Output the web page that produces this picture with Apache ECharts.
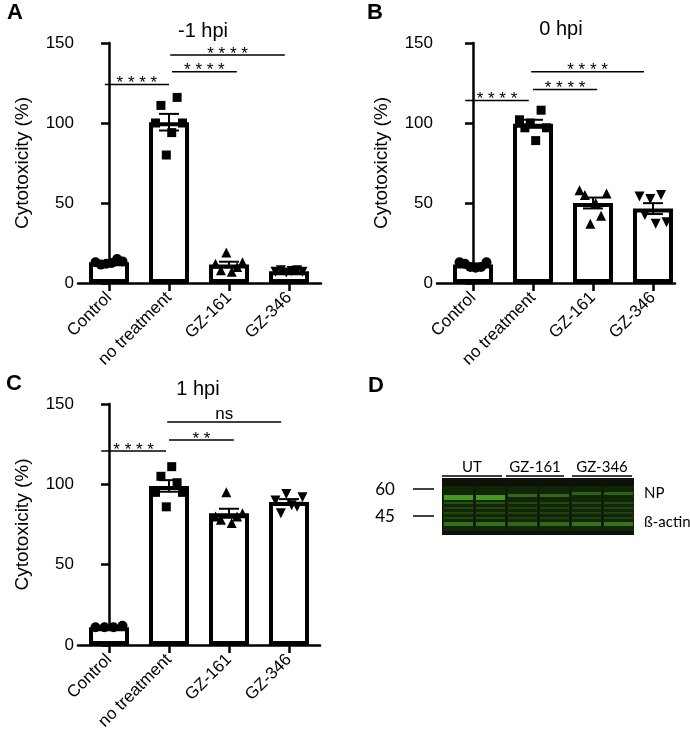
<!DOCTYPE html>
<html>
<head>
<meta charset="utf-8">
<script src="https://cdn.jsdelivr.net/npm/echarts@6/dist/echarts.min.js"></script>
<style>
  html, body { margin: 0; padding: 0; background: #fff; }
  #chart { width: 690px; height: 741px; }
</style>
</head>
<body>
<div id="chart"></div>
<script>
const groups = ['Control', 'no treatment', 'GZ-161', 'GZ-346'];
const yTicks = [0, 50, 100, 150];

// -1 hpi
const meanA = [13, 100.5, 11.5, 7.3];
const semA = [0.6, 5.2, 1.8, 0.4];
const ptsA = [
  [13, 11.5, 12, 12.5, 15, 13.5],
  [100, 111, 80, 94, 116, 100],
  [12, 8, 19, 7, 10, 13],
  [7, 8, 6.5, 7.5, 8, 7]
];
const sigA = [[-0.07, 1.0, 124, '****'], [1.05, 2.13, 132, '****'], [1.02, 2.93, 142.5, '****']];

// 0 hpi
const meanB = [11.5, 99.5, 50, 46.5];
const semB = [0.7, 2.5, 3.4, 3.4];
const ptsB = [
  [13, 12, 10, 9.5, 10, 13],
  [102, 97, 100, 89, 108, 97],
  [58, 55, 37, 50, 42, 56],
  [54, 42.5, 52.5, 37, 55, 38]
];
const sigB = [[-0.13, 0.93, 114, '****'], [1.0, 2.07, 121, '****'], [0.97, 2.85, 132, '****']];

// 1 hpi
const meanC = [11, 99, 82, 89];
const semC = [0.3, 3.6, 2.8, 1.8];
const ptsC = [
  [11, 11, 11, 12],
  [95, 105, 86, 111, 101, 95],
  [80, 78, 95, 76, 80, 82],
  [90, 82, 94, 87, 86, 92]
];
const sigC = [[-0.13, 0.95, 120.7, '****'], [1.0, 2.08, 127.6, '**'], [0.97, 2.87, 138.8, 'ns']];

// western blot (panel D): relative band intensity per lane
const blotGroups = ['UT', 'GZ-161', 'GZ-346'];
const npBand = [0.85, 0.85, 0.5, 0.5, 0.45, 0.45];
const actinBand = [0.55, 0.55, 0.5, 0.52, 0.58, 0.58];
const faintBand = [0.32, 0.32, 0.26, 0.26, 0.28, 0.28];

const FONT = '"Liberation Sans", Arial, sans-serif';
const symbols = ['circle', 'rect', 'triangle', 'triangle'];
const rotations = [0, 0, 0, 180];

const panels = [
  { mean: meanA, sem: semA, pts: ptsA, sig: sigA, grid: { left: 78, top: 43, width: 243, height: 240 }, min: -0.517, max: 3.533 },
  { mean: meanB, sem: semB, pts: ptsB, sig: sigB, grid: { left: 437, top: 43, width: 238, height: 240 }, min: -0.6, max: 3.367 },
  { mean: meanC, sem: semC, pts: ptsC, sig: sigC, grid: { left: 78, top: 404, width: 242, height: 241 }, min: -0.517, max: 3.517 }
];

const grids = [], xAxes = [], yAxes = [], series = [];

panels.forEach((p, k) => {
  grids.push(p.grid);
  xAxes.push({
    type: 'value', gridIndex: k, min: p.min, max: p.max,
    splitLine: { show: false },
    axisLine: { onZero: false, lineStyle: { color: '#000', width: 2.5 } },
    axisTick: { customValues: [0, 1, 2, 3], length: 8, lineStyle: { color: '#000', width: 2.5 } },
    axisLabel: {
      customValues: [0, 1, 2, 3], rotate: 45, margin: 12,
      formatter: v => groups[Math.round(v)],
      color: '#000', fontSize: 17, fontFamily: FONT
    }
  });
  yAxes.push({
    type: 'value', gridIndex: k, min: 0, max: 150, interval: 50,
    name: 'Cytotoxicity (%)', nameLocation: 'middle', nameGap: 46,
    nameTextStyle: { color: '#000', fontSize: 19, fontFamily: FONT },
    splitLine: { show: false },
    axisLine: { show: true, lineStyle: { color: '#000', width: 2.5 } },
    axisTick: { show: true, length: 8, lineStyle: { color: '#000', width: 2.5 } },
    axisLabel: { color: '#000', fontSize: 17, fontFamily: FONT, margin: 4 }
  });

  series.push({
    type: 'bar', xAxisIndex: k, yAxisIndex: k, barWidth: 40, z: 2,
    data: p.mean.map((m, i) => [i, m]),
    itemStyle: { color: '#fff', borderColor: '#000', borderWidth: 4 },
    silent: true
  });

  p.pts.forEach((vals, i) => {
    const n = vals.length;
    const step = 0.45 / (n - 1);
    series.push({
      type: 'scatter', xAxisIndex: k, yAxisIndex: k, z: 3,
      symbol: symbols[i], symbolRotate: rotations[i],
      symbolSize: i === 1 ? 9 : 10,
      itemStyle: { color: '#000', opacity: 1 },
      data: vals.map((v, j) => [i + (j - (n - 1) / 2) * step, v]),
      silent: true
    });
  });

  series.push({
    type: 'custom', xAxisIndex: k, yAxisIndex: k, z: 4,
    data: p.mean.map((m, i) => [i, m, p.sem[i]]),
    renderItem: (params, api) => {
      const x = api.value(0), m = api.value(1), s = api.value(2);
      const t = api.coord([x, m + s]), b = api.coord([x, m - s]);
      const hw = 10, st = { stroke: '#000', lineWidth: 2 };
      return {
        type: 'group', children: [
          { type: 'line', shape: { x1: t[0], y1: t[1], x2: b[0], y2: b[1] }, style: st },
          { type: 'line', shape: { x1: t[0] - hw, y1: t[1], x2: t[0] + hw, y2: t[1] }, style: st },
          { type: 'line', shape: { x1: b[0] - hw, y1: b[1], x2: b[0] + hw, y2: b[1] }, style: st }
        ]
      };
    },
    silent: true
  });

  series.push({
    type: 'custom', xAxisIndex: k, yAxisIndex: k, z: 5,
    data: p.sig.map(s => [s[0], s[1], s[2]]),
    renderItem: (params, api) => {
      const s = p.sig[params.dataIndex];
      const a = api.coord([s[0], s[2]]), b = api.coord([s[1], s[2]]);
      const stars = s[3].indexOf('*') >= 0;
      const txt = stars ? s[3].split('').join(' ') : s[3];
      return {
        type: 'group', children: [
          { type: 'line', shape: { x1: a[0], y1: a[1], x2: b[0], y2: b[1] }, style: { stroke: '#000', lineWidth: 1.5 } },
          {
            type: 'text', x: (a[0] + b[0]) / 2, y: stars ? a[1] - 1 : a[1] + 1,
            style: {
              text: txt, fill: '#000', font: '17px ' + FONT,
              align: 'center', verticalAlign: stars ? 'middle' : 'bottom',
              textAlign: 'center', textVerticalAlign: stars ? 'middle' : 'bottom'
            }
          }
        ]
      };
    },
    silent: true
  });
});

// text elements and blot picture
const txt = (x, y, text, font, align) => ({
  type: 'text', x: x, y: y,
  style: { text: text, font: font, fill: '#000', align: align || 'center', verticalAlign: 'middle', textAlign: align || 'center', textVerticalAlign: 'middle' }
});
const graphic = [
  txt(15, 13, 'A', 'bold 22px ' + FONT),
  txt(375, 13, 'B', 'bold 22px ' + FONT),
  txt(14, 384, 'C', 'bold 22px ' + FONT),
  txt(376, 386, 'D', 'bold 22px ' + FONT),
  txt(203, 31, '-1 hpi', '20px ' + FONT),
  txt(561, 29, '0 hpi', '20px ' + FONT),
  txt(198, 389, '1 hpi', '20px ' + FONT)
];

const BF = 'Lato, "Open Sans", sans-serif';
const blot = { x: 442, y: 478, w: 192, h: 57 };
graphic.push({ type: 'rect', shape: { x: blot.x, y: blot.y, width: blot.w, height: blot.h }, style: { fill: '#0a1305' } });
const laneW = blot.w / 6;
const green = a => 'rgba(80, 175, 35,' + a + ')';
npBand.forEach((v, i) => {
  const lx = blot.x + i * laneW + 2, lw = laneW - 3;
  const shift = i >= 4 ? -3 : (i >= 2 ? -1 : 0);
  graphic.push({ type: 'rect', shape: { x: lx - 1, y: 486, width: lw + 2, height: 45 }, style: { fill: 'rgba(40, 90, 20, 0.25)' } });
  graphic.push({ type: 'rect', shape: { x: lx, y: 495 + shift, width: lw, height: i < 2 ? 5 : 3 }, style: { fill: green(v) } });
  [502, 507, 512, 517].forEach((yy, r) => {
    graphic.push({ type: 'rect', shape: { x: lx, y: yy, width: lw, height: 2 }, style: { fill: green(faintBand[i] * (r === 0 ? 1 : 0.8)) } });
  });
  graphic.push({ type: 'rect', shape: { x: lx, y: 522, width: lw, height: 4 }, style: { fill: green(actinBand[i]) } });
});
blotGroups.forEach((g, i) => {
  const x0 = [442, 506, 572][i], x1 = [502, 564, 632][i];
  graphic.push({ type: 'line', shape: { x1: x0, y1: 476, x2: x1, y2: 476 }, style: { stroke: '#000', lineWidth: 1.5 } });
  graphic.push(txt((x0 + x1) / 2, 467, g, '15px ' + BF));
});
graphic.push(txt(385, 490, '60', '17px ' + BF));
graphic.push(txt(385, 517, '45', '17px ' + BF));
graphic.push({ type: 'line', shape: { x1: 413, y1: 489, x2: 434, y2: 489 }, style: { stroke: '#000', lineWidth: 1.5 } });
graphic.push({ type: 'line', shape: { x1: 413, y1: 516, x2: 434, y2: 516 }, style: { stroke: '#000', lineWidth: 1.5 } });
graphic.push(txt(644, 493, 'NP', '15px ' + BF, 'left'));
graphic.push(txt(644, 522, 'ß-actin', '15px ' + BF, 'left'));

const chart = echarts.init(document.getElementById('chart'));
chart.setOption({
  animation: false,
  backgroundColor: '#fff',
  grid: grids,
  xAxis: xAxes,
  yAxis: yAxes,
  series: series,
  graphic: graphic
});
</script>
</body>
</html>
